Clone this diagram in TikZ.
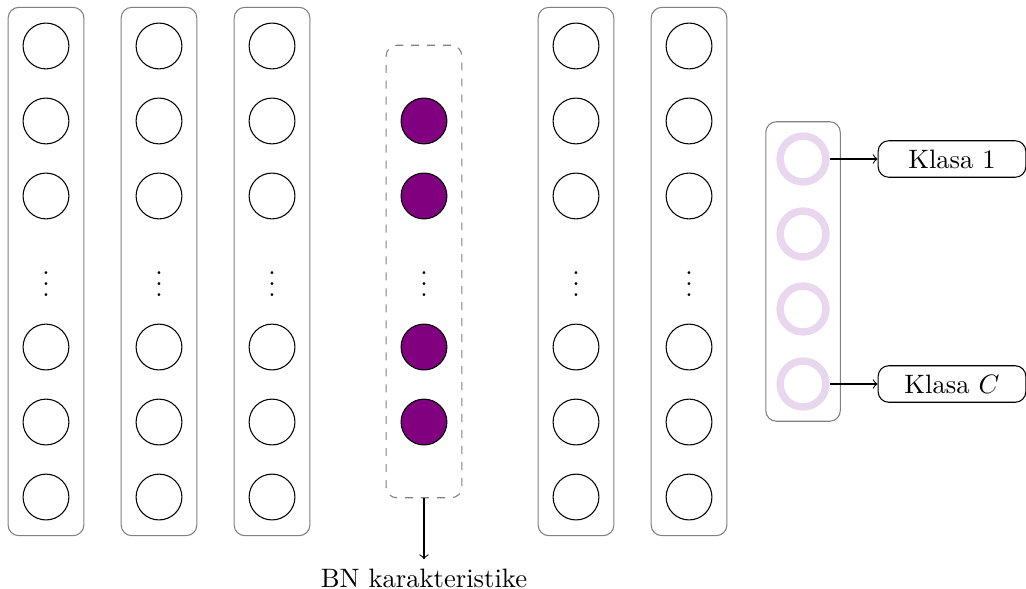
\documentclass[tikz,border=0pt]{standalone}
\usepackage{amsmath,amssymb}
\usepackage{tikz}
\usepackage{xcolor}
\usetikzlibrary{fit}
\definecolor{bnpurple}{RGB}{128,0,128}
\definecolor{softlilac}{RGB}{233,215,240}

\begin{document}
\begin{tikzpicture}[x=0.99cm, y=0.99cm,
    neuron/.style={circle, draw, minimum size=0.605cm, inner sep=0pt},
    bnneuron/.style={neuron, fill=bnpurple},
    outneuron/.style={circle, draw=softlilac, line width=2.8pt, minimum size=0.605cm, inner sep=0pt},
    layerbox/.style={rectangle, rounded corners=4pt, draw=gray, inner xsep=0.19cm, inner ysep=0.2cm},
    bnbox/.style={layerbox, dashed, inner ysep=0.69cm},
    classbox/.style={rectangle, rounded corners=4pt, draw, minimum width=1.95cm, minimum height=0.47cm}]
    \useasboundingbox (0,0) rectangle (13.68,-7.853);
    % hidden layers
    \foreach \l/\x in {1/0.613, 2/2.12, 3/3.627, 5/7.68, 6/9.187} {
        \foreach \r/\y in {1/0.613, 2/1.613, 3/2.613, 5/4.627, 6/5.627, 7/6.627}
            \node[neuron] (n\l-\r) at (\x,-\y) {};
        \node (d\l) at (\x,-3.68) {$\vdots$};
        \node[layerbox, fit=(n\l-1)(n\l-7)] (box\l) {};
    }
    % BN layer
    \foreach \r/\y in {2/1.613, 3/2.613, 5/4.627, 6/5.627}
        \node[bnneuron] (b\r) at (5.653,-\y) {};
    \node (bdots) at (5.653,-3.68) {$\vdots$};
    \node[bnbox, fit=(b2)(b6)] (bnlayer) {};
    \node (bnlabel) at (5.653,-7.707) {BN karakteristike};
    \draw [->] (bnlayer) -- (bnlabel);
    % output layer
    \foreach \r/\y in {1/2.12, 2/3.12, 3/4.12, 4/5.12}
        \node[outneuron] (o\r) at (10.707,-\y) {};
    \node[layerbox, inner xsep=0.14cm, inner ysep=0.14cm, fit=(o1)(o4)] (outlayer) {};
    \node[classbox] (k1) at (12.693,-2.12) {Klasa 1};
    \node[classbox] (kc) at (12.693,-5.12) {Klasa $C$};
    \draw [->] (o1) -- (k1);
    \draw [->] (o4) -- (kc);
\end{tikzpicture}
\end{document}
